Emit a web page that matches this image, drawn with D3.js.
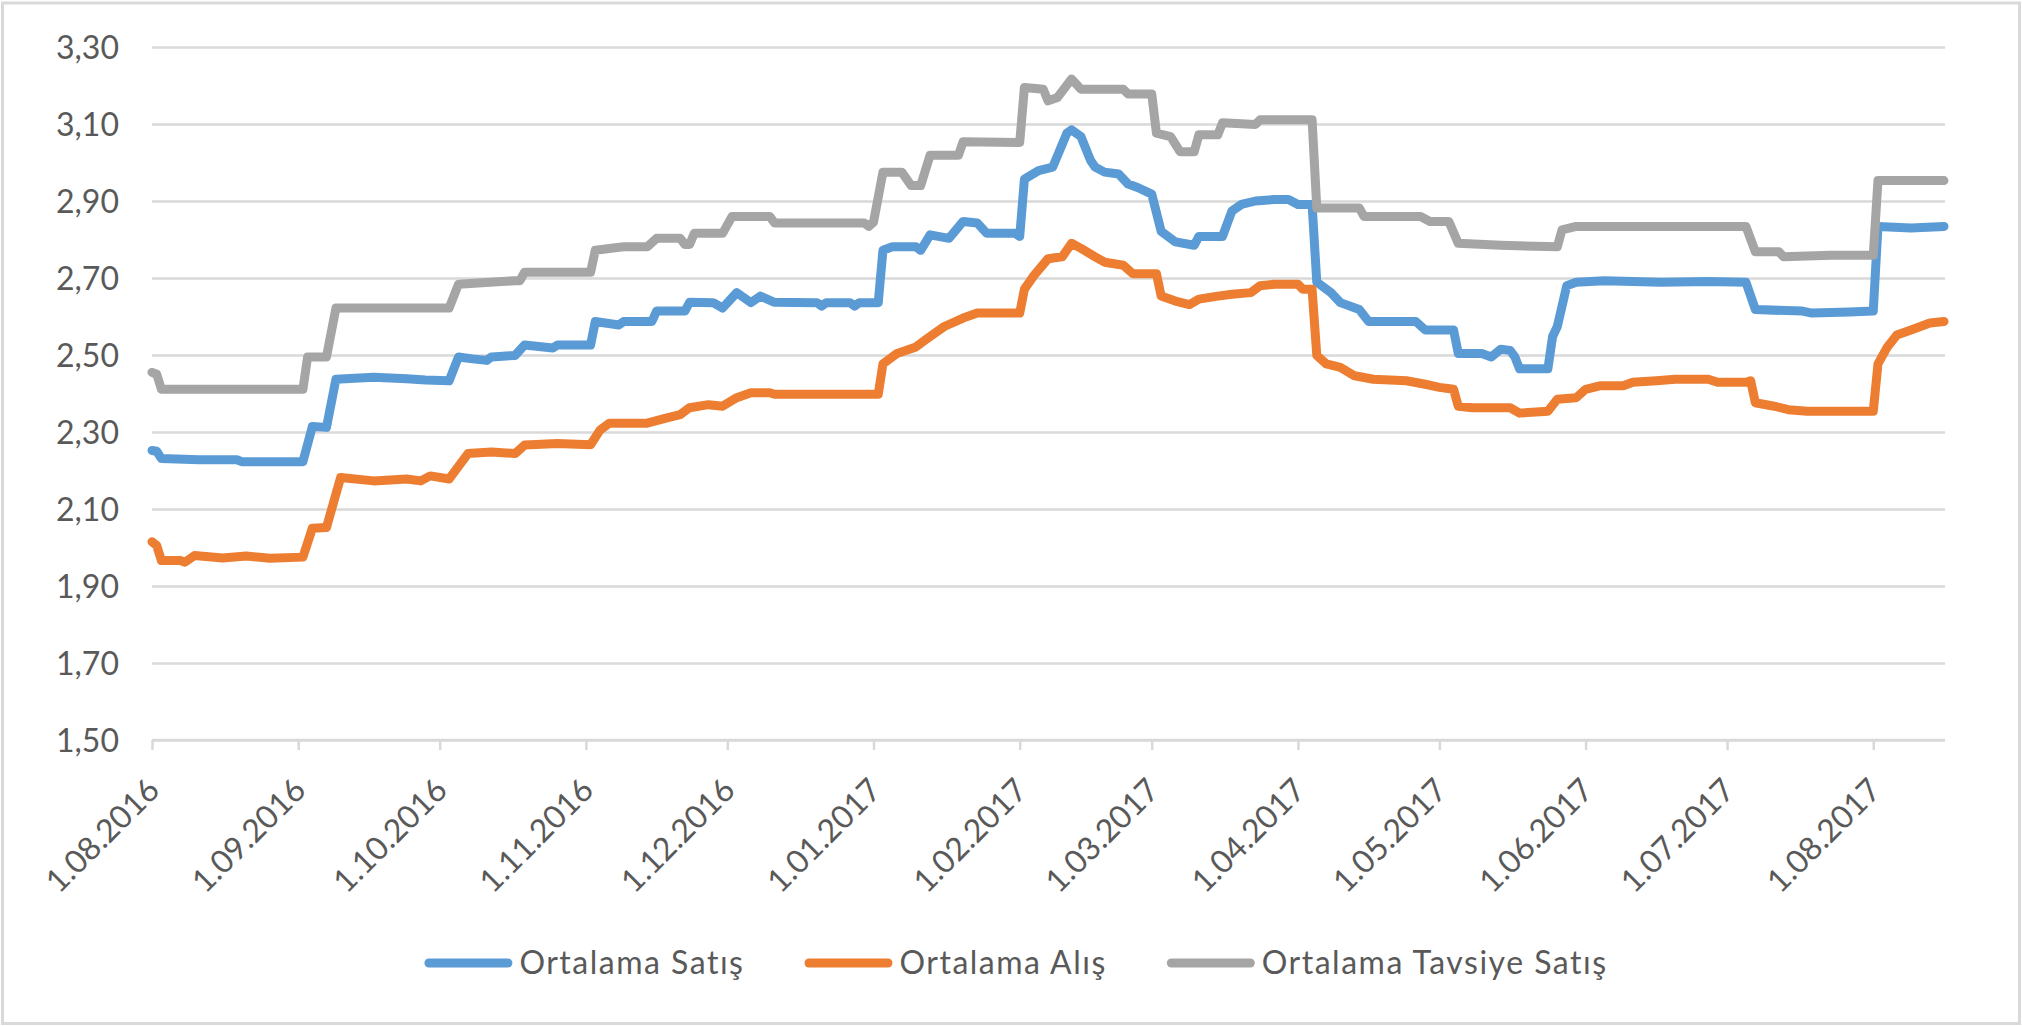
<!DOCTYPE html>
<html>
<head>
<meta charset="utf-8">
<script src="https://cdn.jsdelivr.net/npm/d3@7"></script>
<style>
  html, body { margin: 0; padding: 0; background: #ffffff; }
  svg { display: block; }
  text { font-family: Lato, "Open Sans", sans-serif; fill: #595959; }
</style>
</head>
<body>
<svg id="chart" width="2022" height="1026"></svg>
<script>
// ---------------- DATA ----------------
const seriesNames = ["Ortalama Satış", "Ortalama Alış", "Ortalama Tavsiye Satış"];
const seriesColors = ["#5B9BD5", "#ED7D31", "#A5A5A5"];

const xTickDates = ["2016-08-01","2016-09-01","2016-10-01","2016-11-01","2016-12-01","2017-01-01",
  "2017-02-01","2017-03-01","2017-04-01","2017-05-01","2017-06-01","2017-07-01","2017-08-01"];
const yTicks = [1.5, 1.7, 1.9, 2.1, 2.3, 2.5, 2.7, 2.9, 3.1, 3.3];
const xDomain = ["2016-08-01", "2017-08-16"];
const yDomain = [1.5, 3.3];

const ortalamaSatis = [
  ["2016-08-01",2.252],["2016-08-02",2.25],["2016-08-03",2.231],["2016-08-11",2.228],["2016-08-19",2.228],
  ["2016-08-20",2.223],["2016-09-02",2.223],["2016-09-04",2.314],["2016-09-07",2.312],["2016-09-09",2.437],
  ["2016-09-17",2.442],["2016-09-24",2.438],["2016-09-28",2.435],["2016-10-03",2.433],["2016-10-05",2.495],
  ["2016-10-08",2.49],["2016-10-11",2.486],["2016-10-12",2.495],["2016-10-17",2.499],["2016-10-19",2.526],
  ["2016-10-25",2.518],["2016-10-26",2.526],["2016-11-02",2.526],["2016-11-03",2.587],["2016-11-08",2.578],
  ["2016-11-09",2.587],["2016-11-15",2.587],["2016-11-16",2.614],["2016-11-22",2.614],["2016-11-23",2.637],
  ["2016-11-28",2.636],["2016-11-30",2.622],["2016-12-03",2.662],["2016-12-06",2.636],["2016-12-08",2.653],
  ["2016-12-11",2.637],["2016-12-20",2.636],["2016-12-21",2.627],["2016-12-22",2.636],["2016-12-27",2.636],
  ["2016-12-28",2.627],["2016-12-29",2.636],["2017-01-02",2.636],["2017-01-03",2.772],["2017-01-05",2.781],
  ["2017-01-10",2.781],["2017-01-11",2.772],["2017-01-13",2.812],["2017-01-17",2.803],["2017-01-20",2.847],
  ["2017-01-23",2.843],["2017-01-25",2.816],["2017-01-31",2.816],["2017-02-01",2.808],["2017-02-02",2.957],
  ["2017-02-05",2.979],["2017-02-08",2.988],["2017-02-11",3.076],["2017-02-12",3.085],["2017-02-14",3.067],
  ["2017-02-16",3.006],["2017-02-17",2.988],["2017-02-19",2.975],["2017-02-22",2.97],["2017-02-24",2.944],
  ["2017-02-26",2.935],["2017-03-01",2.918],["2017-03-03",2.821],["2017-03-06",2.794],["2017-03-10",2.785],
  ["2017-03-11",2.808],["2017-03-16",2.808],["2017-03-18",2.874],["2017-03-20",2.891],["2017-03-23",2.9],
  ["2017-03-27",2.904],["2017-03-30",2.904],["2017-04-01",2.891],["2017-04-04",2.891],["2017-04-05",2.689],
  ["2017-04-08",2.662],["2017-04-10",2.636],["2017-04-14",2.618],["2017-04-16",2.587],["2017-04-26",2.587],
  ["2017-04-28",2.565],["2017-05-04",2.565],["2017-05-05",2.504],["2017-05-10",2.504],["2017-05-12",2.495],
  ["2017-05-14",2.515],["2017-05-16",2.512],["2017-05-17",2.495],["2017-05-18",2.464],["2017-05-24",2.464],
  ["2017-05-25",2.548],["2017-05-26",2.574],["2017-05-28",2.68],["2017-05-30",2.689],["2017-06-05",2.693],
  ["2017-06-17",2.689],["2017-06-27",2.691],["2017-07-05",2.689],["2017-07-07",2.618],["2017-07-17",2.614],
  ["2017-07-19",2.609],["2017-07-27",2.612],["2017-08-01",2.614],["2017-08-02",2.834],["2017-08-09",2.83],
  ["2017-08-16",2.834]
];

const ortalamaAlis = [
  ["2016-08-01",2.015],["2016-08-02",2.005],["2016-08-03",1.966],["2016-08-07",1.966],["2016-08-08",1.962],
  ["2016-08-10",1.979],["2016-08-16",1.973],["2016-08-21",1.978],["2016-08-26",1.972],["2016-09-02",1.975],
  ["2016-09-04",2.05],["2016-09-07",2.052],["2016-09-10",2.182],["2016-09-17",2.173],["2016-09-24",2.178],
  ["2016-09-27",2.173],["2016-09-29",2.186],["2016-10-03",2.178],["2016-10-07",2.244],["2016-10-12",2.248],
  ["2016-10-17",2.244],["2016-10-19",2.266],["2016-10-26",2.27],["2016-11-02",2.267],["2016-11-04",2.305],
  ["2016-11-06",2.323],["2016-11-14",2.323],["2016-11-18",2.336],["2016-11-21",2.345],["2016-11-23",2.363],
  ["2016-11-27",2.371],["2016-11-30",2.367],["2016-12-03",2.389],["2016-12-06",2.402],["2016-12-10",2.402],
  ["2016-12-11",2.398],["2017-01-02",2.398],["2017-01-03",2.477],["2017-01-06",2.504],["2017-01-10",2.521],
  ["2017-01-12",2.539],["2017-01-16",2.574],["2017-01-20",2.596],["2017-01-23",2.609],["2017-02-01",2.609],
  ["2017-02-02",2.671],["2017-02-04",2.706],["2017-02-07",2.75],["2017-02-10",2.755],["2017-02-12",2.79],
  ["2017-02-14",2.777],["2017-02-17",2.755],["2017-02-19",2.741],["2017-02-23",2.733],["2017-02-25",2.711],
  ["2017-03-02",2.711],["2017-03-03",2.653],["2017-03-06",2.64],["2017-03-09",2.631],["2017-03-11",2.645],
  ["2017-03-15",2.653],["2017-03-18",2.658],["2017-03-22",2.662],["2017-03-24",2.68],["2017-03-27",2.684],
  ["2017-04-01",2.684],["2017-04-02",2.671],["2017-04-04",2.671],["2017-04-05",2.499],["2017-04-07",2.477],
  ["2017-04-10",2.468],["2017-04-13",2.446],["2017-04-17",2.437],["2017-04-24",2.433],["2017-04-28",2.424],
  ["2017-05-01",2.416],["2017-05-04",2.411],["2017-05-05",2.367],["2017-05-08",2.363],["2017-05-16",2.363],
  ["2017-05-18",2.349],["2017-05-24",2.354],["2017-05-26",2.385],["2017-05-30",2.389],["2017-06-01",2.411],
  ["2017-06-04",2.42],["2017-06-09",2.42],["2017-06-11",2.429],["2017-06-16",2.433],["2017-06-20",2.437],
  ["2017-06-27",2.437],["2017-06-29",2.429],["2017-07-05",2.429],["2017-07-06",2.433],["2017-07-07",2.376],
  ["2017-07-11",2.367],["2017-07-14",2.358],["2017-07-18",2.354],["2017-08-01",2.354],["2017-08-02",2.477],
  ["2017-08-04",2.521],["2017-08-06",2.552],["2017-08-09",2.565],["2017-08-13",2.583],["2017-08-16",2.587]
];

const ortalamaTavsiyeSatis = [
  ["2016-08-01",2.455],["2016-08-02",2.45],["2016-08-03",2.411],["2016-09-02",2.411],["2016-09-03",2.495],
  ["2016-09-07",2.495],["2016-09-09",2.622],["2016-10-03",2.622],["2016-10-05",2.684],["2016-10-17",2.693],
  ["2016-10-18",2.693],["2016-10-19",2.715],["2016-11-02",2.715],["2016-11-03",2.772],["2016-11-09",2.781],
  ["2016-11-14",2.781],["2016-11-16",2.803],["2016-11-21",2.803],["2016-11-22",2.787],["2016-11-23",2.787],
  ["2016-11-24",2.816],["2016-11-30",2.816],["2016-12-02",2.86],["2016-12-10",2.86],["2016-12-11",2.843],
  ["2016-12-30",2.843],["2016-12-31",2.834],["2017-01-01",2.845],["2017-01-03",2.975],["2017-01-07",2.975],
  ["2017-01-09",2.94],["2017-01-11",2.94],["2017-01-13",3.019],["2017-01-19",3.019],["2017-01-20",3.054],
  ["2017-02-01",3.052],["2017-02-02",3.195],["2017-02-06",3.19],["2017-02-07",3.16],["2017-02-09",3.169],
  ["2017-02-12",3.217],["2017-02-14",3.19],["2017-02-23",3.19],["2017-02-24",3.178],["2017-03-01",3.178],
  ["2017-03-02",3.076],["2017-03-05",3.067],["2017-03-07",3.028],["2017-03-10",3.028],["2017-03-11",3.072],
  ["2017-03-15",3.072],["2017-03-16",3.103],["2017-03-23",3.099],["2017-03-24",3.111],["2017-04-04",3.111],
  ["2017-04-05",2.882],["2017-04-14",2.882],["2017-04-15",2.86],["2017-04-27",2.86],["2017-04-29",2.847],
  ["2017-05-03",2.847],["2017-05-05",2.79],["2017-05-14",2.785],["2017-05-26",2.781],["2017-05-27",2.825],
  ["2017-05-30",2.834],["2017-07-05",2.834],["2017-07-07",2.768],["2017-07-12",2.768],["2017-07-13",2.755],
  ["2017-07-23",2.759],["2017-08-01",2.759],["2017-08-02",2.953],["2017-08-16",2.953]
];

const seriesValues = [ortalamaSatis, ortalamaAlis, ortalamaTavsiyeSatis];

// ---------------- CHART ----------------
const W = 2022, H = 1026;
const plot = { left: 152, right: 1944, top: 47, bottom: 740 };
const parse = d3.timeParse("%Y-%m-%d");
const svg = d3.select("#chart");

svg.append("rect").attr("x", 0).attr("y", 0).attr("width", W).attr("height", H).attr("fill", "#fff");
svg.append("rect").attr("x", 2.5).attr("y", 3).attr("width", W - 5).attr("height", H - 5.5)
  .attr("fill", "none").attr("stroke", "#d9d9d9").attr("stroke-width", 3);

const x = d3.scaleTime().domain(xDomain.map(parse)).range([plot.left, plot.right]);
const y = d3.scaleLinear().domain(yDomain).range([plot.bottom, plot.top]);

const commaFmt = d => d3.format(".2f")(d).replace(".", ",");
const dateFmt = d3.timeFormat("%-d.%m.%Y");

// gridlines + y labels
const yAxis = d3.axisLeft(y).tickValues(yTicks).tickFormat(commaFmt)
  .tickSize(-(plot.right + 1 - plot.left)).tickPadding(33);
const gy = svg.append("g").attr("transform", `translate(${plot.left},0)`).call(yAxis);
gy.select(".domain").remove();
gy.selectAll(".tick line").attr("stroke", "#d9d9d9").attr("stroke-width", 2.5);
gy.selectAll(".tick text").attr("font-size", 32).attr("fill", "#595959")
  .style("font-family", "Lato, sans-serif").attr("dy", "0.36em");

// x axis
const xAxis = d3.axisBottom(x).tickValues(xTickDates.map(parse)).tickFormat(dateFmt).tickSize(10).tickSizeOuter(0);
const gx = svg.append("g").attr("transform", `translate(0,${plot.bottom})`).call(xAxis);
gx.select(".domain").attr("stroke", "#d9d9d9").attr("stroke-width", 2.5)
  .attr("d", `M${plot.left},0H${plot.right + 1}`);
gx.selectAll(".tick line").attr("stroke", "#d9d9d9").attr("stroke-width", 2.5);
gx.selectAll(".tick text")
  .attr("font-size", 32).attr("fill", "#595959").style("font-family", "Lato, sans-serif")
  .attr("text-anchor", "end").attr("x", 0).attr("y", 0).attr("dy", 0)
  .attr("transform", "translate(9,52) rotate(-45)");

// lines
const line = d3.line().x(d => x(parse(d[0]))).y(d => y(d[1]));
seriesValues.forEach((vals, i) => {
  svg.append("path").datum(vals)
    .attr("d", line)
    .attr("fill", "none")
    .attr("stroke", seriesColors[i])
    .attr("stroke-width", 9)
    .attr("stroke-linejoin", "round")
    .attr("stroke-linecap", "round");
});

// legend
const legend = svg.append("g");
const lineLen = 88, lineW = 9, textX = 95, itemGap = 60, legendY = 963;
let cx = 0;
seriesNames.forEach((name, i) => {
  const g = legend.append("g");
  g.append("line").attr("x1", lineW / 2).attr("x2", lineLen - lineW / 2).attr("y1", 0).attr("y2", 0)
    .attr("stroke", seriesColors[i]).attr("stroke-width", lineW).attr("stroke-linecap", "round");
  const t = g.append("text").attr("x", textX).attr("y", 0).attr("dy", "0.33em")
    .attr("font-size", 32).style("font-family", "Lato, sans-serif").style("letter-spacing", "1.5px")
    .attr("fill", "#595959").text(name);
  const w = textX + t.node().getComputedTextLength();
  g.attr("transform", `translate(${cx},${legendY})`);
  cx += w + itemGap;
});
const totalW = cx - itemGap;
legend.attr("transform", `translate(${1016 - totalW / 2},0)`);
</script>
</body>
</html>
